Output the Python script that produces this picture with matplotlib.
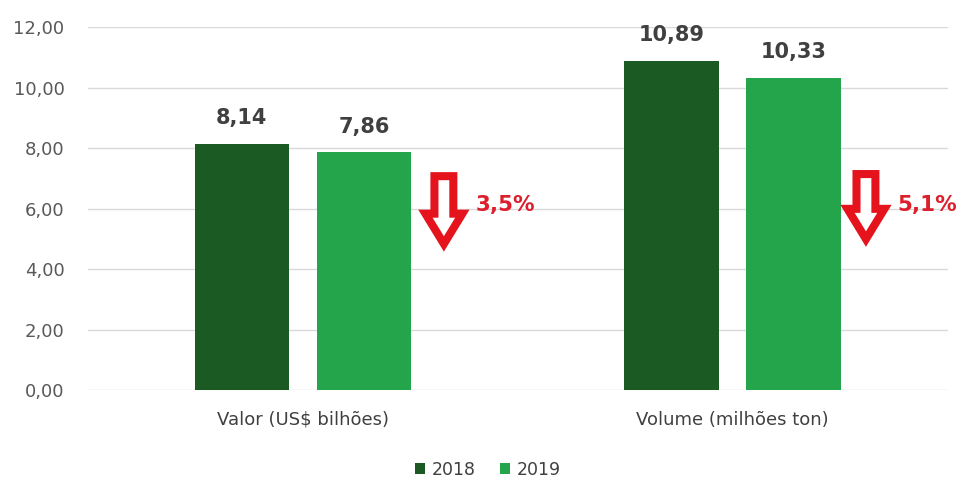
import matplotlib
matplotlib.use("Agg")
import matplotlib.pyplot as plt
import numpy as np
from matplotlib.patches import Polygon

# Dados
categorias = ["Valor (US$ bilhões)", "Volume (milhões ton)"]
anos = ["2018", "2019"]
valores_2018 = [8.14, 10.89]
valores_2019 = [7.86, 10.33]
quedas = ["3,5%", "5,1%"]

cor_2018 = "#1c5a24"
cor_2019 = "#24a54b"
cor_seta = "#e5141c"

plt.rcParams["font.family"] = ["DejaVu Sans"]

fig = plt.figure(figsize=(9.64, 4.83), dpi=100)
ax = fig.add_axes([0.0913, 0.1925, 0.8917, 0.7515])

x = np.arange(len(categorias))
width = 0.22
off = 0.142

b1 = ax.bar(x - off, valores_2018, width, color=cor_2018, label=anos[0], zorder=3)
b2 = ax.bar(x + off, valores_2019, width, color=cor_2019, label=anos[1], zorder=3)

def fmt(v):
    return f"{v:.2f}".replace(".", ",")

for bars in (b1, b2):
    for r in bars:
        h = r.get_height()
        ax.text(r.get_x() + r.get_width() / 2, h + 0.85, fmt(h), ha="center", va="center",
                fontsize=15, fontweight="bold", color="#404040")

# setas vazadas indicando queda
topo = [7.07, 7.14]
base = [4.83, 4.99]
centros = [0.328, 0.31]
for i in range(len(categorias)):
    cx = x[i] + centros[i]
    sw = 0.022   # meia largura da haste
    hw = 0.043   # meia largura da ponta
    hy = base[i] + 1.0
    pts = [(cx - sw, topo[i]), (cx + sw, topo[i]), (cx + sw, hy), (cx + hw, hy),
           (cx, base[i]), (cx - hw, hy), (cx - sw, hy)]
    ax.add_patch(Polygon(pts, closed=True, facecolor="white", edgecolor=cor_seta,
                         linewidth=5.8, joinstyle="miter", zorder=4))
    ax.text(cx + 0.074, 6.12, quedas[i], ha="left", va="center", fontsize=15.5,
            fontweight="bold", color="#dc1f2c", zorder=5)

ax.set_xlim(-0.5, 1.5)
ax.set_ylim(0, 12)
ax.set_yticks(np.arange(0, 13, 2))
ax.set_yticklabels([fmt(v) for v in np.arange(0, 13, 2)], fontsize=13, color="#595959")
ax.set_xticks(x)
ax.set_xticklabels(categorias, fontsize=13, color="#404040")
ax.tick_params(axis="x", length=0, pad=15)
ax.tick_params(axis="y", length=0, pad=17)
ax.grid(axis="y", color="#d9d9d9", linewidth=1, zorder=0)
for s in ax.spines.values():
    s.set_visible(False)

ax.legend(loc="center", bbox_to_anchor=(0.465, -0.22), ncol=2, frameon=False,
          fontsize=12.5, handlelength=0.6, handleheight=0.6, handletextpad=0.35,
          columnspacing=1.4, labelcolor="#404040")

fig.savefig("out.png", dpi=100)
